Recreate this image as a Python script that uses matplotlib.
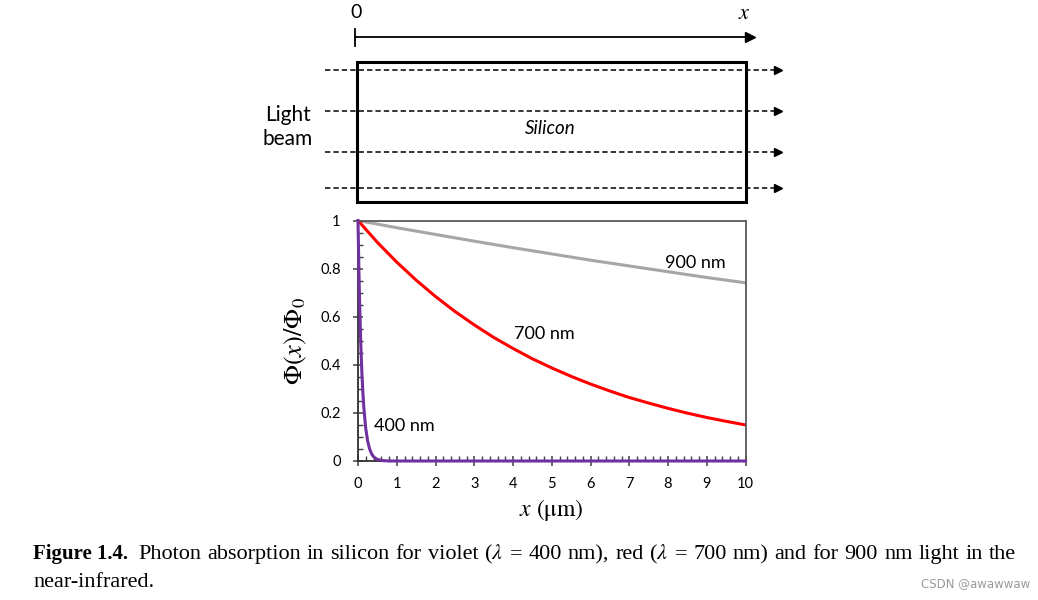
import matplotlib as mpl
mpl.use('agg')
import matplotlib.pyplot as plt
from matplotlib.ticker import MultipleLocator

plt.rcParams['mathtext.fontset'] = 'stix'
plt.rcParams['font.family'] = ['Lato', 'DejaVu Sans']

# depth in silicon (um) and normalised photon flux
x_900 = [0, 1, 2, 3, 4, 5, 6, 7, 8, 9, 10]
phi_900 = [1.0, 0.970, 0.942, 0.914, 0.887, 0.861, 0.835, 0.811, 0.787, 0.763, 0.741]

x_700 = [0, 0.5, 1, 1.5, 2, 2.5, 3, 3.5, 4, 4.5, 5, 5.5, 6, 6.5, 7, 7.5, 8, 8.5, 9, 9.5, 10]
phi_700 = [1.0, 0.909, 0.827, 0.752, 0.684, 0.622, 0.566, 0.514, 0.468, 0.425, 0.387,
           0.352, 0.320, 0.291, 0.264, 0.241, 0.219, 0.199, 0.181, 0.165, 0.150]

x_400 = [0, 0.025, 0.05, 0.075, 0.1, 0.125, 0.15, 0.2, 0.25, 0.3, 0.35, 0.4, 0.45, 0.5,
         0.6, 0.8, 1, 2, 3, 4, 5, 6, 7, 8, 9, 10]
phi_400 = [1.0, 0.779, 0.607, 0.472, 0.368, 0.287, 0.223, 0.135, 0.082, 0.050, 0.030, 0.018,
           0.011, 0.007, 0.002, 0, 0, 0, 0, 0, 0, 0, 0, 0, 0, 0]

labels = ['900 nm', '700 nm', '400 nm']
label_pos = [(8.7, 0.825), (4.8, 0.53), (1.2, 0.145)]
colors = ['#a6a6a6', '#ff0000', '#7030a0']

caption_bold = 'Figure 1.4.'
caption_line1 = ('Photon absorption in silicon for violet ($\\lambda$ = 400 nm), red ($\\lambda$ = 700 nm) '
                 'and for 900 nm light in the')
caption_line2 = 'near-infrared.'

fig = plt.figure(figsize=(10.38, 6), dpi=100)

# overlay in pixel coordinates for the sketch and the caption
ov = fig.add_axes([0, 0, 1, 1])
ov.set_xlim(0, 1038)
ov.set_ylim(600, 0)
ov.axis('off')

# x direction arrow
ov.plot([355, 748], [37, 37], color='black', lw=1.3)
ov.plot([355, 355], [29, 46], color='black', lw=1.3)
ov.plot(750, 37, marker='>', color='black', markersize=7)
ov.text(356, 13, '0', ha='center', va='center', fontsize=14)
ov.text(744, 13, '$x$', ha='center', va='center', fontsize=16)

# silicon block and light beams
ov.add_patch(plt.Rectangle((357, 62), 389, 140, fill=False, lw=2.2, edgecolor='black'))
for yb in [70, 111, 152, 188]:
    ov.plot([325, 776], [yb, yb], color='black', lw=1.1, dashes=(3.5, 2))
    ov.plot(778, yb, marker='>', color='black', markersize=6)
ov.text(288, 127, 'Light\nbeam', ha='center', va='center', fontsize=15, linespacing=1.3)
ov.text(550, 129, 'Silicon', ha='center', va='center', fontsize=13.5, style='italic')

# caption, first line justified like the book page
cap_kw = dict(va='baseline', fontsize=16, family='Liberation Serif')
ov.text(33, 559, caption_bold, ha='left', weight='bold', va='baseline', fontsize=15,
        family='Liberation Serif')
renderer = fig.canvas.get_renderer()
words = caption_line1.split(' ')
objs = [ov.text(0, 559, w, ha='left', **cap_kw) for w in words]
widths = [t.get_window_extent(renderer).width for t in objs]
gap = (1016 - 138 - sum(widths)) / (len(words) - 1)
xpos = 138
for t, w in zip(objs, widths):
    t.set_x(xpos)
    xpos += w + gap
ov.text(33, 587, caption_line2, ha='left', **cap_kw)
ov.text(1030, 584, 'CSDN @awawwaw', ha='right', va='center', fontsize=8.5,
        family='DejaVu Sans', color='#9a9a9a')

# absorption plot
ax = fig.add_axes([358 / 1038, 139 / 600, 387.5 / 1038, 240.5 / 600])
ax.plot(x_900, phi_900, color=colors[0], lw=2.2)
ax.plot(x_700, phi_700, color=colors[1], lw=2.2)
ax.plot(x_400, phi_400, color=colors[2], lw=2.2, clip_on=False, zorder=5)
for lab, (lx, ly) in zip(labels, label_pos):
    ax.text(lx, ly, lab, ha='center', va='center', fontsize=13)

ax.set_xlim(0, 10)
ax.set_ylim(0, 1)
ax.xaxis.set_major_locator(MultipleLocator(1))
ax.xaxis.set_minor_locator(MultipleLocator(0.2))
ax.yaxis.set_major_locator(MultipleLocator(0.2))
ax.yaxis.set_minor_locator(MultipleLocator(0.05))
ax.yaxis.set_major_formatter(mpl.ticker.FuncFormatter(lambda v, p: '%g' % round(v, 1)))
ax.tick_params(which='major', direction='inout', length=7, width=1.1, labelsize=10.5, color='#404040')
ax.tick_params(which='minor', direction='in', length=3.5, width=1.0, color='#404040')
ax.tick_params(axis='x', which='major', pad=8)
ax.tick_params(axis='y', which='major', pad=9)
for s in ax.spines.values():
    s.set_color('#595959')
    s.set_linewidth(1.3)
ax.spines['left'].set_color('#303030')
ax.spines['bottom'].set_color('#303030')

ax.set_xlabel('$x$ (μm)', fontsize=17, family='STIXGeneral', labelpad=4)
ax.set_ylabel('$\\Phi(x)/\\Phi_0$', fontsize=19, labelpad=8)

fig.savefig('out.png', dpi=100)
